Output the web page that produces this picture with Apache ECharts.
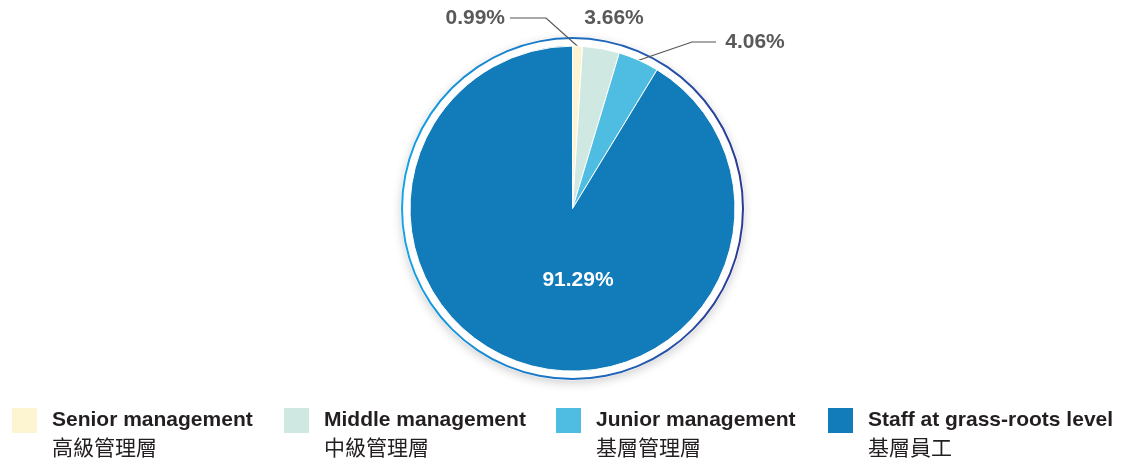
<!DOCTYPE html>
<html>
<head>
<meta charset="utf-8">
<script src="https://cdn.jsdelivr.net/npm/echarts@6/dist/echarts.min.js"></script>
<style>
html, body { margin: 0; padding: 0; background: #fff; }
#chart { width: 1121px; height: 462px; }
</style>
</head>
<body>
<div id="chart"></div>
<script>
let categories = ['Senior management', 'Middle management', 'Junior management', 'Staff at grass-roots level'];
let categoriesZh = ['高級管理層', '中級管理層', '基層管理層', '基層員工'];
let shares = [0.99, 3.66, 4.06, 91.29];
let colors = ['#fdf5d2', '#cfe8e1', '#4fbde2', '#127bb9'];

// where each percentage label sits (pixels)
let labelSpots = [
    {x: 505, y: 18, align: 'right', elbow: [546, 18], end: [510, 18]},
    {x: 614, y: 18, align: 'center'},
    {x: 755, y: 42, align: 'center', elbow: [692, 42], end: [716, 42]},
    {x: 578, y: 280, align: 'center'}
];

let center = [572.5, 208.6];

function initShareChart() {
    let chart = echarts.init(document.getElementById('chart'));
    let pieData = shares.map(function (v, i) {
        let item = {value: v, name: categories[i], itemStyle: {color: colors[i]}};
        if (i === 1) {
            item.labelLine = {show: false};
        }
        if (i === 3) {
            item.label = {position: 'inside', color: '#fff'};
            item.labelLine = {show: false};
        }
        return item;
    });
    let option = {
        animation: false,
        legend: {
            data: categories,
            left: 12,
            top: 408,
            padding: 0,
            itemGap: 2,
            itemWidth: 35,
            itemHeight: 54,
            icon: 'path://M0,0h25v25h-25z M35,54h0.01v0.01h-0.01z',
            itemStyle: {borderWidth: 0},
            selectedMode: false,
            formatter: function (name) {
                return '{a|' + name + '}\n{b|' + categoriesZh[categories.indexOf(name)] + '}';
            },
            textStyle: {
                rich: {
                    a: {
                        fontSize: 21,
                        fontWeight: 'bold',
                        fontFamily: 'Liberation Sans',
                        color: '#231f20',
                        lineHeight: 25,
                        width: 230
                    },
                    b: {
                        fontSize: 21,
                        fontFamily: 'Noto Sans CJK TC',
                        color: '#231f20',
                        lineHeight: 29,
                        width: 230
                    }
                }
            }
        },
        series: [
            {
                // white backing disc with soft shadow
                name: 'backing',
                type: 'pie',
                silent: true,
                z: 1,
                center: center,
                radius: [0, 172],
                label: {show: false},
                labelLine: {show: false},
                itemStyle: {
                    color: '#fff',
                    shadowBlur: 10,
                    shadowOffsetY: 3,
                    shadowColor: 'rgba(0,0,0,0.18)'
                },
                data: [{value: 1, name: 'backing'}]
            },
            {
                // thin gradient ring
                name: 'ring',
                type: 'pie',
                silent: true,
                z: 1,
                center: center,
                radius: [169.5, 171.5],
                label: {show: false},
                labelLine: {show: false},
                itemStyle: {
                    color: new echarts.graphic.LinearGradient(0, 0, 1, 0, [
                        {offset: 0, color: '#17a2e3'},
                        {offset: 0.5, color: '#1c6fc0'},
                        {offset: 1, color: '#2c3a96'}
                    ])
                },
                data: [{value: 1, name: 'ring'}]
            },
            {
                name: 'Share',
                type: 'pie',
                z: 3,
                center: center,
                radius: [0, 162.5],
                startAngle: 90,
                clockwise: true,
                avoidLabelOverlap: false,
                itemStyle: {
                    borderColor: '#fff',
                    borderWidth: 1
                },
                label: {
                    show: true,
                    position: 'outside',
                    formatter: function (p) {
                        return p.value.toFixed(2) + '%';
                    },
                    fontSize: 21,
                    fontWeight: 'bold',
                    fontFamily: 'Liberation Sans',
                    color: '#595959'
                },
                labelLine: {
                    show: true,
                    lineStyle: {color: '#555', width: 1.2}
                },
                labelLayout: function (params) {
                    let spot = labelSpots[params.dataIndex];
                    let out = {x: spot.x, y: spot.y, align: spot.align, verticalAlign: 'middle'};
                    if (spot.elbow && params.labelLinePoints) {
                        out.labelLinePoints = [params.labelLinePoints[0], spot.elbow, spot.end];
                    }
                    return out;
                },
                data: pieData
            }
        ]
    };
    chart.setOption(option);
}

initShareChart();
</script>
</body>
</html>
